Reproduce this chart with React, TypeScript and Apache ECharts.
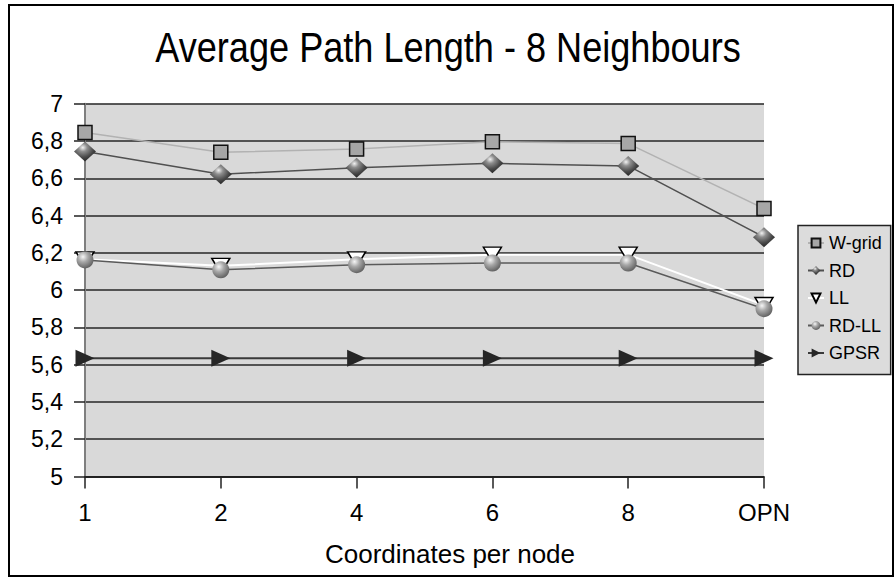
import React, { useEffect, useRef } from "react";
import * as echarts from "echarts";

// Coordinates per node (x categories)
const categories = ["1", "2", "4", "6", "8", "OPN"];

// Average path length per protocol
const wGrid = [6.846, 6.739, 6.757, 6.796, 6.786, 6.438];
const rd = [6.743, 6.621, 6.657, 6.68, 6.666, 6.284];
const ll = [6.165, 6.13, 6.165, 6.19, 6.19, 5.92];
const rdLl = [6.162, 6.109, 6.136, 6.145, 6.145, 5.9];
const gpsr = [5.634, 5.634, 5.634, 5.634, 5.634, 5.634];

const yTicks = { min: 5, max: 7, step: 0.2 };

const FONT = "'Liberation Sans', Arial, Helvetica, sans-serif";

const sphere = new echarts.graphic.RadialGradient(0.38, 0.32, 0.75, [
  { offset: 0, color: "#f6f6f6" },
  { offset: 0.4, color: "#a8a8a8" },
  { offset: 1, color: "#575757" },
]);

const shinyDiamond = new echarts.graphic.RadialGradient(0.4, 0.3, 0.8, [
  { offset: 0, color: "#f2f2f2" },
  { offset: 0.25, color: "#8e8e8e" },
  { offset: 0.6, color: "#4a4a4a" },
  { offset: 1, color: "#161616" },
]);

export default function App() {
  const ref = useRef<HTMLDivElement>(null);

  useEffect(() => {
    if (!ref.current) return;
    const chart = echarts.init(ref.current, undefined, { renderer: "svg" });

    chart.setOption({
      animation: false,
      backgroundColor: "#ffffff",
      textStyle: { fontFamily: FONT },
      grid: { left: 85, right: 132, top: 103.7, bottom: 103.5, show: true, backgroundColor: "#d9d9d9", borderWidth: 0 },
      graphic: [
        {
          type: "rect",
          shape: { x: 9, y: 5, width: 884, height: 571 },
          style: { fill: "none", stroke: "#000", lineWidth: 2 },
          z: 100,
        },
        {
          type: "text",
          x: 448,
          y: 48,
          scaleX: 0.86,
          style: {
            text: "Average Path Length - 8 Neighbours",
            font: `42px ${FONT}`,
            fill: "#000",
            align: "center",
            verticalAlign: "middle",
          },
        },
        {
          type: "text",
          x: 450,
          y: 554,
          style: {
            text: "Coordinates per node",
            font: `26px ${FONT}`,
            fill: "#000",
            align: "center",
            verticalAlign: "middle",
          },
        },
      ],
      legend: {
        orient: "vertical",
        left: 798,
        top: 225.5,
        backgroundColor: "#dcdcdc",
        borderColor: "#222",
        borderWidth: 1.5,
        borderRadius: 0,
        padding: [8, 9, 12, 9],
        itemGap: 8.5,
        itemWidth: 16,
        itemHeight: 11,
        textStyle: { fontSize: 18, lineHeight: 19, color: "#000", fontFamily: FONT },
        data: ["W-grid", "RD", "LL", "RD-LL", "GPSR"],
      },
      xAxis: {
        type: "category",
        data: categories,
        boundaryGap: false,
        axisLine: { lineStyle: { color: "#111", width: 1.5 } },
        axisTick: { show: true, length: 12, lineStyle: { color: "#222", width: 1.5 } },
        axisLabel: { fontSize: 24, color: "#000", margin: 24 },
        splitLine: { show: false },
      },
      yAxis: {
        type: "value",
        min: yTicks.min,
        max: yTicks.max,
        interval: yTicks.step,
        axisLine: { show: true, lineStyle: { color: "#7f7f7f", width: 2 } },
        axisTick: { show: true, length: 11, lineStyle: { color: "#222", width: 1.5 } },
        axisLabel: {
          fontSize: 23,
          color: "#000",
          margin: 22,
          formatter: (v: number) => String(+v.toFixed(1)).replace(".", ","),
        },
        splitLine: { show: true, lineStyle: { color: "#262626", width: 1.5 } },
      },
      series: [
        {
          name: "W-grid",
          type: "line",
          data: wGrid,
          symbol: "rect",
          symbolSize: 14,
          lineStyle: { color: "#b2b2b2", width: 1.5 },
          itemStyle: { color: "#a6a6a6", borderColor: "#111", borderWidth: 1.5 },
        },
        {
          name: "RD",
          type: "line",
          data: rd,
          symbol: "diamond",
          symbolSize: [22, 20],
          lineStyle: { color: "#505050", width: 1.5 },
          itemStyle: { color: shinyDiamond, borderWidth: 0 },
        },
        {
          name: "LL",
          type: "line",
          data: ll,
          symbol: "path://M0,0 L18,0 L9,15 Z",
          symbolSize: [18, 15],
          symbolKeepAspect: false,
          lineStyle: { color: "#ffffff", width: 2 },
          itemStyle: { color: "#ffffff", borderColor: "#000", borderWidth: 1.5 },
        },
        {
          name: "RD-LL",
          type: "line",
          data: rdLl,
          symbol: "circle",
          symbolSize: 17,
          lineStyle: { color: "#5a5a5a", width: 1.5 },
          itemStyle: { color: sphere, borderWidth: 0 },
        },
        {
          name: "GPSR",
          type: "line",
          data: gpsr,
          symbol: "path://M0,0 L19,8.5 L0,17 Z",
          symbolSize: [19, 17],
          lineStyle: { color: "#3a3a3a", width: 2 },
          itemStyle: { color: "#262626", borderWidth: 0 },
        },
      ],
    });

    return () => chart.dispose();
  }, []);

  return (
    <div
      ref={ref}
      style={{ position: "fixed", left: 0, top: 0, width: 896, height: 580 }}
    />
  );
}
